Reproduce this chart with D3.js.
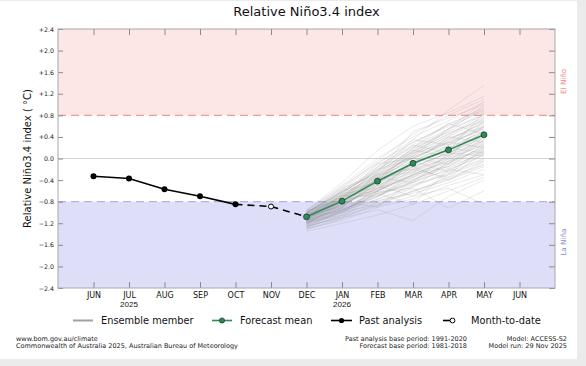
<!DOCTYPE html>
<html>
<head>
<meta charset="utf-8">
<script src="https://cdn.jsdelivr.net/npm/d3@7"></script>
<style>
  body { margin: 0; background: #ebebeb; }
  svg { display: block; font-family: "DejaVu Sans", sans-serif; }
</style>
</head>
<body>
<svg id="chart" width="586" height="366"></svg>
<script>
// month slots along the x axis, JUN 2025 .. JUN 2026
const months = ["JUN", "JUL", "AUG", "SEP", "OCT", "NOV", "DEC", "JAN", "FEB", "MAR", "APR", "MAY", "JUN"];
const yearIdx = [1, 7];
const years = ["2025", "2026"];

const yTicks = [-2.4, -2.0, -1.6, -1.2, -0.8, -0.4, 0.0, 0.4, 0.8, 1.2, 1.6, 2.0, 2.4];
const yTickLabels = ["\u22122.4", "\u22122.0", "\u22121.6", "\u22121.2", "\u22120.8", "\u22120.4", "0.0",
  "+0.4", "+0.8", "+1.2", "+1.6", "+2.0", "+2.4"];

// past analysis JUN..OCT, month-to-date NOV
const pastIdx = [0, 1, 2, 3, 4];
const pastVals = [-0.33, -0.37, -0.57, -0.70, -0.85];
const mtdIdx = 5;
const mtdVal = -0.89;

// forecast DEC..MAY
const fcIdx = [6, 7, 8, 9, 10, 11];
const fcMean = [-1.08, -0.79, -0.42, -0.09, 0.16, 0.44];

const ensemble = [
  [-1.02, -0.62, -0.15, 0.30, 0.62, 0.95],
  [-1.10, -0.85, -0.55, -0.30, -0.05, 0.20],
  [-1.15, -0.95, -0.70, -0.45, -0.20, 0.05],
  [-1.05, -0.70, -0.30, 0.05, 0.35, 0.65],
  [-1.20, -1.00, -0.85, -0.60, -0.40, -0.15],
  [-0.98, -0.55, -0.05, 0.45, 0.80, 1.10],
  [-1.12, -0.80, -0.45, -0.15, 0.10, 0.38],
  [-1.08, -0.75, -0.38, 0.00, 0.28, 0.55],
  [-1.25, -1.10, -0.95, -1.15, -0.70, -0.40],
  [-1.00, -0.60, -0.20, 0.15, 0.55, 0.80],
  [-1.18, -0.90, -0.62, -0.25, 0.05, 0.30],
  [-1.06, -0.78, -0.50, -0.20, 0.00, 0.25],
  [-1.30, -1.15, -0.90, -0.75, -0.50, -0.30],
  [-0.96, -0.50, 0.00, 0.40, 0.70, 1.05],
  [-1.14, -0.88, -0.48, -0.05, 0.25, 0.60],
  [-1.09, -0.72, -0.35, 0.10, 0.40, 0.72],
  [-1.22, -0.98, -0.75, -0.50, -0.25, 0.00],
  [-1.04, -0.68, -0.28, 0.20, 0.50, 0.85],
  [-1.16, -0.92, -0.60, -0.35, -0.15, 0.10],
  [-1.11, -0.82, -0.52, -0.10, 0.15, 0.48],
  [-1.28, -1.05, -0.80, -0.55, -0.92, -0.60],
  [-1.00, -0.58, -0.10, 0.35, 0.90, 1.35],
  [-1.07, -0.76, -0.40, -0.08, 0.20, 0.45],
  [-1.13, -0.84, -0.58, -0.32, 0.05, 0.35],
  [-1.35, -1.20, -1.05, -0.85, -0.60, -0.35],
  [-0.99, -0.64, -0.22, 0.25, 0.65, 0.90],
  [-1.19, -0.96, -0.68, -0.40, -0.10, 0.22],
  [-1.03, -0.66, -0.32, 0.02, 0.30, 0.62],
  [-1.24, -1.02, -0.78, -0.65, -0.45, -0.20],
  [-1.05, -0.70, -0.42, -0.15, 0.10, 0.40],
  [-1.10, -0.86, -0.30, 0.12, 0.45, 0.75],
  [-1.17, -0.94, -0.72, -0.28, -0.05, 0.15],
  [-1.01, -0.60, -0.25, 0.50, 0.75, 1.00],
  [-1.21, -0.99, -0.65, -0.48, -0.30, -0.05],
  [-1.08, -0.74, -0.44, -0.12, 0.18, 0.52],
  [-1.26, -1.08, -0.88, -0.70, -0.55, -0.85],
  [-0.97, -0.52, -0.08, 0.30, 0.60, 0.88],
  [-1.12, -0.83, -0.55, -0.22, 0.08, 0.32],
  [-1.15, -0.90, -0.46, -0.02, 0.35, 0.68],
  [-1.06, -0.73, -0.36, 0.08, 0.42, 0.78],
  [-1.32, -1.12, -0.82, -0.60, -0.35, -0.10],
  [-1.02, -0.65, -0.18, 0.22, 0.55, 0.92],
  [-1.18, -0.93, -0.64, -0.38, -0.18, 0.12],
  [-1.09, -0.77, -0.47, -0.18, 0.12, 0.42],
  [-1.23, -1.00, -0.70, -0.42, -0.22, 0.08],
  [-1.00, -0.62, -0.26, 0.18, 0.48, 0.70],
  [-1.14, -0.87, -0.50, -0.26, 0.02, 0.28],
  [-1.07, -0.71, -0.33, 0.05, 0.38, 0.58],
  [-1.20, -0.97, -0.76, -0.52, -0.28, -0.02],
  [-1.04, -0.67, -0.29, 0.14, 0.45, 0.82],
  [-1.11, -0.81, -0.56, -0.33, -0.08, 0.18],
  [-1.16, -0.91, -0.40, 0.10, 0.30, 0.55],
  [-0.95, -0.45, 0.15, 0.60, 0.85, 1.15],
  [-1.27, -1.06, -0.86, -0.62, -0.38, -0.12],
  [-1.05, -0.69, -0.34, -0.05, 0.22, 0.50],
  [-1.13, -0.85, -0.60, -0.30, -0.02, 0.26],
  [-1.09, -0.79, -0.43, -0.10, 0.24, 0.58],
  [-1.01, -0.63, -0.23, 0.12, 0.52, 0.98],
  [-1.19, -0.95, -0.66, -0.44, -0.12, 0.14],
  [-1.08, -0.76, -0.39, 0.02, 0.32, 0.68],
  [-1.12, -0.70, -0.60, -0.20, -0.35, 0.10],
  [-1.05, -0.90, -0.35, -0.45, 0.10, 0.05],
  [-1.22, -0.80, -0.90, -0.40, -0.10, 0.40],
  [-1.00, -0.75, -0.20, 0.00, -0.10, 0.35],
  [-1.18, -1.05, -0.50, -0.70, -0.30, 0.20],
  [-1.10, -0.60, -0.45, 0.15, 0.05, 0.60],
  [-1.28, -0.95, -0.65, -0.85, -0.20, -0.30],
  [-1.03, -0.82, -0.15, 0.25, 0.10, 0.50],
  [-1.15, -0.65, -0.55, -0.10, 0.40, 0.30],
  [-1.07, -0.98, -0.60, -0.05, -0.25, 0.15],
  [-1.20, -0.85, -0.35, -0.25, 0.15, 0.85],
  [-0.98, -0.72, -0.40, 0.20, 0.65, 0.45],
  [-1.25, -1.00, -0.55, -0.15, -0.40, -0.05],
  [-1.09, -0.68, -0.70, -0.35, 0.00, 0.70],
  [-1.14, -0.92, -0.25, 0.35, 0.25, 0.75],
  [-1.02, -0.55, -0.30, -0.20, 0.20, 0.10],
  [-1.30, -1.10, -0.60, -0.30, -0.15, 0.25],
  [-1.06, -0.88, -0.45, 0.05, 0.55, 1.05],
  [-1.17, -0.78, -0.62, -0.55, -0.05, 0.45],
  [-1.11, -0.74, -0.10, 0.00, 0.30, 0.20]
];

const elNino = 0.8, laNina = -0.8;

const svg = d3.select("#chart");
svg.append("rect").attr("x", 0).attr("y", 1).attr("width", 577).attr("height", 358).attr("fill", "#fff");

const m = { left: 58, top: 29, right: 555, bottom: 288 };
const x = d3.scaleLinear().domain([-1, 13]).range([m.left, m.right]);
const y = d3.scaleLinear().domain([-2.4, 2.4]).range([m.bottom, m.top]);
const w = m.right - m.left;

const plot = svg.append("g");

// El Nino / La Nina zones
plot.append("rect").attr("x", m.left).attr("width", w)
  .attr("y", y(2.4)).attr("height", y(elNino) - y(2.4)).attr("fill", "#fde6e6");
plot.append("rect").attr("x", m.left).attr("width", w)
  .attr("y", y(laNina)).attr("height", y(-2.4) - y(laNina)).attr("fill", "#dedef9");

plot.append("line").attr("x1", m.left).attr("x2", m.right)
  .attr("y1", y(0)).attr("y2", y(0)).attr("stroke", "#d6d6d6").attr("stroke-width", 1);
plot.append("line").attr("x1", m.left).attr("x2", m.right)
  .attr("y1", y(elNino)).attr("y2", y(elNino))
  .attr("stroke", "#f19a9a").attr("stroke-width", 1.2).attr("stroke-dasharray", "8,5");
plot.append("line").attr("x1", m.left).attr("x2", m.right)
  .attr("y1", y(laNina)).attr("y2", y(laNina))
  .attr("stroke", "#b3b3e6").attr("stroke-width", 1.2).attr("stroke-dasharray", "8,5");

const line = d3.line().x(d => x(d[0])).y(d => y(d[1]));

// ensemble plume
plot.append("g").selectAll("path").data(ensemble).join("path")
  .attr("d", d => line(d.map((v, i) => [fcIdx[i], v])))
  .attr("fill", "none").attr("stroke", "#8c8c8c")
  .attr("stroke-opacity", 0.32).attr("stroke-width", 0.6);

// past analysis
const past = pastIdx.map((d, i) => [d, pastVals[i]]);
plot.append("path").attr("d", line(past))
  .attr("fill", "none").attr("stroke", "#000").attr("stroke-width", 1.6);
plot.selectAll(".pt").data(past).join("circle").attr("class", "pt")
  .attr("cx", d => x(d[0])).attr("cy", d => y(d[1])).attr("r", 3).attr("fill", "#000");

// month-to-date dashed link
const mtd = [[pastIdx[pastIdx.length - 1], pastVals[pastVals.length - 1]], [mtdIdx, mtdVal], [fcIdx[0], fcMean[0]]];
plot.append("path").attr("d", line(mtd))
  .attr("fill", "none").attr("stroke", "#000").attr("stroke-width", 1.6).attr("stroke-dasharray", "7,5");
plot.append("circle").attr("cx", x(mtdIdx)).attr("cy", y(mtdVal)).attr("r", 2.5)
  .attr("fill", "#fff").attr("stroke", "#000").attr("stroke-width", 1);

// forecast mean
const fc = fcIdx.map((d, i) => [d, fcMean[i]]);
plot.append("path").attr("d", line(fc))
  .attr("fill", "none").attr("stroke", "#2e8b57").attr("stroke-width", 1.6);
plot.selectAll(".fc").data(fc).join("circle").attr("class", "fc")
  .attr("cx", d => x(d[0])).attr("cy", d => y(d[1])).attr("r", 3)
  .attr("fill", "#2e8b57").attr("stroke", "#14301f").attr("stroke-width", 0.7);

// axes (ticks point inward)
const tickIdx = d3.range(months.length);
const xAxis = svg.append("g").attr("transform", `translate(0,${m.bottom})`)
  .call(d3.axisBottom(x).tickValues(tickIdx).tickFormat(i => months[i]).tickSizeInner(-6).tickSizeOuter(0).tickPadding(4));
svg.append("g").attr("transform", `translate(0,${m.top})`)
  .call(d3.axisTop(x).tickValues(tickIdx).tickFormat("").tickSizeInner(-6).tickSizeOuter(0));
const yAxis = svg.append("g").attr("transform", `translate(${m.left},0)`)
  .call(d3.axisLeft(y).tickValues(yTicks).tickFormat((d, i) => yTickLabels[i]).tickSizeInner(-5).tickSizeOuter(0).tickPadding(4));
svg.append("g").attr("transform", `translate(${m.right},0)`)
  .call(d3.axisRight(y).tickValues(yTicks).tickFormat("").tickSizeInner(-6).tickSizeOuter(0));
svg.selectAll(".domain").remove();
svg.selectAll(".tick line").attr("stroke", "#8a8a8a");
xAxis.selectAll("text").attr("font-size", 8).attr("fill", "#111").attr("font-family", "DejaVu Sans");
yAxis.selectAll("text").attr("font-size", 6.3).attr("fill", "#222").attr("font-family", "DejaVu Sans");

xAxis.selectAll(".yr").data(yearIdx).join("text").attr("class", "yr")
  .attr("x", d => x(d)).attr("y", 19).attr("text-anchor", "middle")
  .attr("font-size", 8).attr("fill", "#111").text((d, i) => years[i]);

svg.append("rect").attr("x", m.left).attr("y", m.top).attr("width", w).attr("height", m.bottom - m.top)
  .attr("fill", "none").attr("stroke", "#a8a8a8").attr("stroke-width", 1);

// side labels
svg.append("text").attr("transform", `translate(566,${y(1.43)}) rotate(-90)`)
  .attr("text-anchor", "middle").attr("font-size", 7.2).attr("fill", "#f08585").text("El Niño");
svg.append("text").attr("transform", `translate(566,${y(-1.55)}) rotate(-90)`)
  .attr("text-anchor", "middle").attr("font-size", 7.2).attr("fill", "#8c8cd2").text("La Niña");

// titles
svg.append("text").attr("x", (m.left + m.right) / 2).attr("y", 16).attr("text-anchor", "middle")
  .attr("font-size", 13).attr("fill", "#111").text("Relative Niño3.4 index");
svg.append("text").attr("transform", `translate(31,${(m.top + m.bottom) / 2}) rotate(-90)`)
  .attr("text-anchor", "middle").attr("font-size", 10).attr("fill", "#111").text("Relative Niño3.4 index ( °C)");

// legend
const lg = svg.append("g").attr("font-size", 9.8).attr("fill", "#111");
const ly = 320.5;
lg.append("line").attr("x1", 73).attr("x2", 93).attr("y1", ly).attr("y2", ly).attr("stroke", "#a0a0a0").attr("stroke-width", 2);
lg.append("text").attr("x", 101).attr("y", ly + 3.5).text("Ensemble member");
lg.append("line").attr("x1", 212).attr("x2", 232).attr("y1", ly).attr("y2", ly).attr("stroke", "#2e8b57").attr("stroke-width", 1.6);
lg.append("circle").attr("cx", 222).attr("cy", ly).attr("r", 2.6).attr("fill", "#2e8b57").attr("stroke", "#14301f").attr("stroke-width", 0.7);
lg.append("text").attr("x", 240).attr("y", ly + 3.5).text("Forecast mean");
lg.append("line").attr("x1", 331).attr("x2", 352).attr("y1", ly).attr("y2", ly).attr("stroke", "#000").attr("stroke-width", 1.6);
lg.append("circle").attr("cx", 341.5).attr("cy", ly).attr("r", 2.6).attr("fill", "#000");
lg.append("text").attr("x", 359).attr("y", ly + 3.5).text("Past analysis");
lg.append("line").attr("x1", 443).attr("x2", 450).attr("y1", ly).attr("y2", ly).attr("stroke", "#000").attr("stroke-width", 1.6);
lg.append("circle").attr("cx", 452.5).attr("cy", ly).attr("r", 2.4).attr("fill", "#fff").attr("stroke", "#000").attr("stroke-width", 1);
lg.append("text").attr("x", 471).attr("y", ly + 3.5).text("Month-to-date");

// footer
const ft = svg.append("g").attr("font-size", 6.5).attr("fill", "#222");
ft.append("text").attr("x", 16).attr("y", 341).text("www.bom.gov.au/climate");
ft.append("text").attr("x", 16).attr("y", 348).text("Commonwealth of Australia 2025, Australian Bureau of Meteorology");
ft.append("text").attr("x", 467).attr("y", 341).attr("text-anchor", "end").text("Past analysis base period: 1991-2020");
ft.append("text").attr("x", 467).attr("y", 348).attr("text-anchor", "end").text("Forecast base period: 1981-2018");
ft.append("text").attr("x", 567).attr("y", 341).attr("text-anchor", "end").text("Model: ACCESS-S2");
ft.append("text").attr("x", 567).attr("y", 348).attr("text-anchor", "end").text("Model run: 29 Nov 2025");
</script>
</body>
</html>
